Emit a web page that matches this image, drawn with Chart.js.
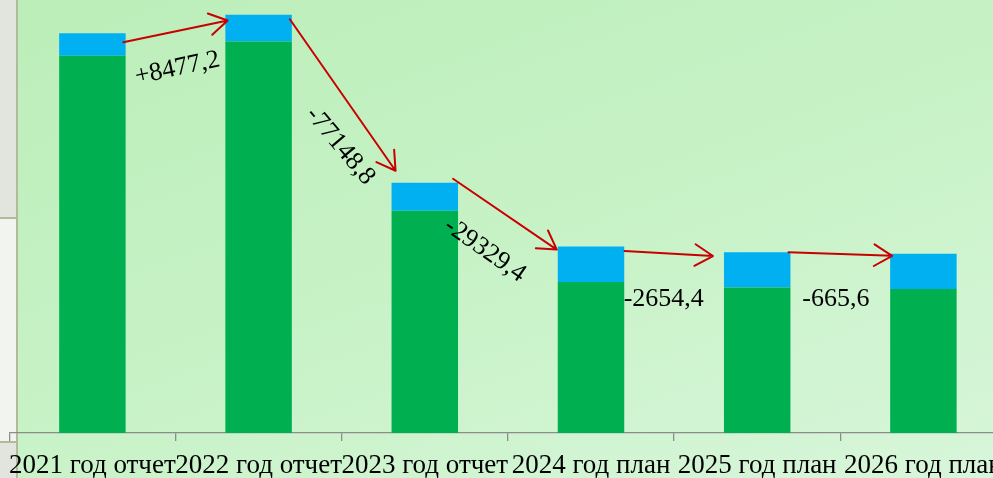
<!DOCTYPE html>
<html>
<head>
<meta charset="utf-8">
<script src="https://cdn.jsdelivr.net/npm/chart.js@4.4.1/dist/chart.umd.min.js"></script>
<style>
html,body{margin:0;padding:0;width:993px;height:478px;overflow:hidden;background:#ffffff;}
#bg{position:absolute;left:18px;top:0;width:975px;height:478px;background:linear-gradient(160deg,#bbeeb9 0%,#c7f2c6 50%,#d8f6da 100%);}
#p1{position:absolute;left:0;top:0;width:16px;height:217px;background:#e1e5dd;border-right:2px solid #b3ba9b;border-bottom:2px solid #b3ba9b;}
#p2{position:absolute;left:0;top:219px;width:16px;height:222px;background:#f2f4ef;border-right:2px solid #b3ba9b;border-bottom:2px solid #b3ba9b;}
#p3{position:absolute;left:0;top:443px;width:16px;height:35px;background:#e1e5dd;border-right:2px solid #b3ba9b;}
#wrap{position:absolute;left:0;top:0;width:1010px;height:478px;}
</style>
</head>
<body>
<div id="bg"></div><div id="p1"></div><div id="p2"></div><div id="p3"></div>
<div id="wrap"><canvas id="c" width="1010" height="478"></canvas></div>
<script>
const categories = ['2021 год отчет', '2022 год отчет', '2023 год отчет', '2024 год план', '2025 год план', '2026 год план'];
const greenValues = [173350, 179827.2, 102078.4, 69349.0, 66894.6, 66129.0];
const blueValues = [10300, 12300, 12900, 16300, 16100, 16200];
const changeLabels = ['+8477,2', '-77148,8', '-29329,4', '-2654,4', '-665,6'];

const arrowPlugin = {
  id: 'arrows',
  afterDatasetsDraw(chart, args, opts) {
    const meta = chart.getDatasetMeta(1);
    const ctx = chart.ctx;
    ctx.save();
    for (let i = 0; i < meta.data.length - 1; i++) {
      const a = meta.data[i], b = meta.data[i + 1];
      const o = opts.arrows[i];
      const sx = a.x + a.width / 2 + o.s[0], sy = a.y + o.s[1];
      const ex = b.x - b.width / 2 + o.e[0], ey = b.y + o.e[1];
      ctx.strokeStyle = opts.color;
      ctx.lineWidth = opts.lineWidth;
      ctx.lineCap = 'round';
      ctx.lineJoin = 'round';
      ctx.beginPath();
      ctx.moveTo(sx, sy);
      ctx.lineTo(ex, ey);
      const ang = Math.atan2(ey - sy, ex - sx);
      const L = opts.head, h = opts.headAngle * Math.PI / 180;
      ctx.moveTo(ex - L * Math.cos(ang - h), ey - L * Math.sin(ang - h));
      ctx.lineTo(ex, ey);
      ctx.lineTo(ex - L * Math.cos(ang + h), ey - L * Math.sin(ang + h));
      ctx.stroke();
      const mx = (sx + ex) / 2, my = (sy + ey) / 2;
      const lo = opts.labels[i];
      ctx.save();
      ctx.translate(mx + lo.d[0], my + lo.d[1]);
      ctx.rotate(lo.r * Math.PI / 180);
      ctx.fillStyle = '#000000';
      ctx.font = opts.font;
      ctx.textAlign = 'center';
      ctx.textBaseline = 'middle';
      ctx.fillText(changeLabels[i], 0, 0);
      ctx.restore();
    }
    ctx.restore();
  }
};

new Chart(document.getElementById('c'), {
  type: 'bar',
  data: {
    labels: categories,
    datasets: [
      { data: greenValues, backgroundColor: '#00b050', borderWidth: 0, barPercentage: 0.4, categoryPercentage: 1.0 },
      { data: blueValues, backgroundColor: '#00b0f0', borderWidth: 0, barPercentage: 0.4, categoryPercentage: 1.0 }
    ]
  },
  plugins: [arrowPlugin],
  options: {
    responsive: false,
    animation: false,
    layout: { padding: { left: 9.3, right: 3.5, top: 2, bottom: 0 } },
    plugins: {
      legend: { display: false },
      tooltip: { enabled: false },
      arrows: {
        color: '#c80000',
        lineWidth: 2,
        head: 21,
        headAngle: 31,
        font: '26px "Liberation Serif"',
        arrows: [
          { s: [-2.4, 9], e: [2.3, 5.7] },
          { s: [-2, 4.5], e: [4, -12] },
          { s: [-5, -4], e: [-1, 3] },
          { s: [0.3, 4.4], e: [-11, 3.7] },
          { s: [-2, 0], e: [2, 2] }
        ],
        labels: [
          { d: [2, 37], r: -12 },
          { d: [-2.5, 51], r: 50 },
          { d: [-20, 36], r: 35 },
          { d: [-5, 45.5], r: 0 },
          { d: [-4.5, 44.7], r: 0 }
        ]
      }
    },
    scales: {
      x: {
        stacked: true,
        grid: { display: true, drawOnChartArea: false, drawTicks: true, tickLength: 8, color: '#8c8c8c', lineWidth: 1.3, offset: true },
        border: { display: true, color: '#8c8c8c', width: 1.3 },
        ticks: { color: '#000000', font: { family: 'Liberation Serif', size: 27 }, maxRotation: 0, minRotation: 0, autoSkip: false, padding: 9 },
        afterFit(s) { s.height = 45; s.paddingLeft = 0; s.paddingRight = 0; }
      },
      y: { stacked: true, display: false, min: 0, max: 198000 }
    }
  }
});
</script>
</body>
</html>
